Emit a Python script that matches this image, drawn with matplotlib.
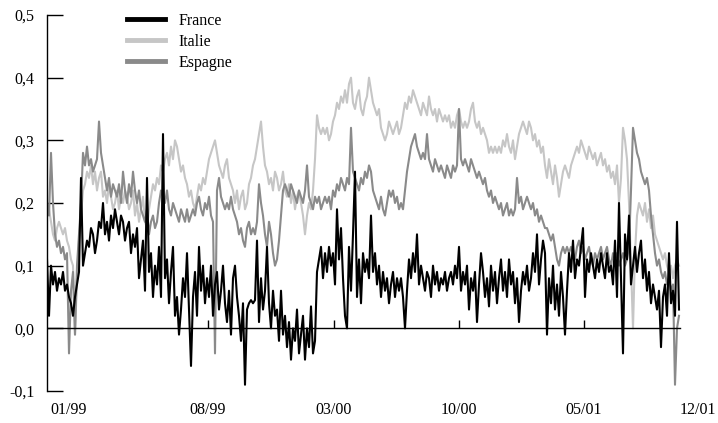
import numpy as np
import matplotlib.pyplot as plt

plt.rcParams['font.family'] = ['Liberation Serif', 'DejaVu Serif']

# values, one point every couple of trading days
france = [0.11, 0.02, 0.10, 0.07, 0.09, 0.06, 0.08, 0.07, 0.09, 0.06,
          0.07, 0.05, 0.04, 0.02, 0.05, 0.07, 0.09, 0.24, 0.10, 0.12,
          0.14, 0.13, 0.16, 0.15, 0.12, 0.14, 0.17, 0.16, 0.20, 0.15,
          0.17, 0.14, 0.18, 0.16, 0.19, 0.17, 0.15, 0.18, 0.17, 0.14,
          0.16, 0.17, 0.12, 0.15, 0.13, 0.16, 0.08, 0.11, 0.14, 0.06,
          0.24, 0.09, 0.12, 0.05, 0.10, 0.07, 0.13, 0.05, 0.31, 0.08,
          0.11, 0.04, 0.09, 0.13, 0.02, 0.05, -0.01, 0.03, 0.08, 0.05,
          0.12, 0.03, -0.06, 0.05, 0.09, 0.02, 0.13, 0.06, 0.10, 0.04,
          0.08, 0.05, 0.10, 0.02, 0.07, 0.09, 0.03, 0.06, 0.10, 0.04,
          0.01, 0.06, -0.01, 0.08, 0.10, 0.05, 0.02, -0.02, 0.04, -0.09,
          0.03, 0.04, 0.045, 0.04, 0.045, 0.14, 0.01, 0.08, 0.03, 0.06,
          0.13, 0.04, 0.00, 0.06, 0.02, 0.03, -0.02, 0.06, -0.01, 0.02,
          -0.03, 0.01, -0.05, 0.00, -0.02, 0.03, -0.04, -0.01, 0.02, -0.05,
          0.00, -0.03, 0.035, -0.04, -0.02, 0.09, 0.11, 0.13, 0.08, 0.12,
          0.09, 0.13, 0.10, 0.12, 0.07, 0.19, 0.11, 0.16, 0.08, 0.02,
          0.00, 0.13, 0.06, 0.15, 0.25, 0.05, 0.11, 0.04, 0.12, 0.09,
          0.11, 0.08, 0.18, 0.09, 0.12, 0.07, 0.10, 0.05, 0.09, 0.06,
          0.08, 0.04, 0.07, 0.09, 0.05, 0.08, 0.06, 0.08, 0.05, 0.00,
          0.06, 0.11, 0.08, 0.12, 0.09, 0.15, 0.07, 0.10, 0.08, 0.06,
          0.09, 0.08, 0.05, 0.10, 0.07, 0.09, 0.06, 0.08, 0.07, 0.09,
          0.06, 0.08, 0.09, 0.07, 0.10, 0.08, 0.13, 0.06, 0.09, 0.07,
          0.10, 0.03, 0.08, 0.06, 0.09, 0.01, 0.07, 0.12, 0.09, 0.05,
          0.08, 0.035, 0.10, 0.06, 0.09, 0.04, 0.08, 0.11, 0.06, 0.09,
          0.05, 0.11, 0.07, 0.09, 0.04, 0.08, 0.01, 0.06, 0.09, 0.07,
          0.10, 0.06, 0.08, 0.12, 0.09, 0.15, 0.07, 0.11, 0.14, 0.12,
          -0.01, 0.08, 0.04, 0.10, 0.03, 0.07, 0.02, 0.09, 0.05, -0.01,
          0.06, 0.12, 0.09, 0.14, 0.08, 0.11, 0.10, 0.13, 0.16, 0.05,
          0.11, 0.09, 0.12, 0.10, 0.08, 0.11, 0.09, 0.12, 0.10, 0.08,
          0.12, 0.09, 0.10, 0.07, 0.14, 0.05, 0.20, 0.08, -0.04, 0.15,
          0.11, 0.18, 0.07, 0.10, 0.13, 0.09, 0.12, 0.14, 0.08, 0.11,
          0.06, 0.09, 0.04, 0.07, 0.05, 0.03, 0.06, -0.03, 0.05, 0.07,
          0.02, 0.12, 0.04, 0.06, 0.02, 0.17, 0.03]

italie = [0.20, 0.19, 0.17, 0.15, 0.14, 0.16, 0.17, 0.16, 0.15, 0.16,
          0.14, 0.13, 0.11, 0.10, -0.01, 0.08, 0.14, 0.18, 0.22, 0.23,
          0.25, 0.24, 0.26, 0.23, 0.25, 0.22, 0.24, 0.25, 0.21, 0.22,
          0.20, 0.23, 0.21, 0.19, 0.20, 0.22, 0.19, 0.21, 0.20, 0.22,
          0.21, 0.19, 0.20, 0.22, 0.18, 0.20, 0.17, 0.19, 0.21, 0.17,
          0.16, 0.19, 0.21, 0.23, 0.22, 0.24, 0.23, 0.26, 0.25, 0.27,
          0.28, 0.26, 0.29, 0.27, 0.30, 0.29, 0.27, 0.25, 0.26, 0.24,
          0.23, 0.21, 0.22, 0.20, 0.19, 0.21, 0.23, 0.22, 0.24, 0.23,
          0.25, 0.27, 0.28, 0.29, 0.30, 0.28, 0.26, 0.25, 0.24, 0.26,
          0.27, 0.24, 0.23, 0.22, 0.20, 0.22, 0.19, 0.21, 0.22, 0.19,
          0.20, 0.23, 0.24, 0.26, 0.27, 0.29, 0.31, 0.33, 0.29, 0.26,
          0.25, 0.23, 0.24, 0.22, 0.25, 0.24, 0.22, 0.23, 0.25, 0.22,
          0.21, 0.23, 0.20, 0.22, 0.19, 0.21, 0.22, 0.20, 0.18, 0.15,
          0.18, 0.20, 0.19, 0.22, 0.27, 0.34, 0.32, 0.31, 0.32, 0.31,
          0.32, 0.30, 0.31, 0.33, 0.34, 0.36, 0.35, 0.37, 0.36, 0.38,
          0.36, 0.39, 0.40, 0.36, 0.35, 0.37, 0.38, 0.35, 0.34, 0.36,
          0.37, 0.40, 0.38, 0.36, 0.35, 0.34, 0.35, 0.32, 0.31, 0.30,
          0.31, 0.33, 0.32, 0.31, 0.32, 0.33, 0.31, 0.32, 0.34, 0.36,
          0.35, 0.37, 0.36, 0.38, 0.37, 0.36, 0.35, 0.34, 0.36, 0.35,
          0.34, 0.37, 0.35, 0.34, 0.35, 0.33, 0.35, 0.34, 0.33, 0.34,
          0.33, 0.34, 0.32, 0.33, 0.32, 0.34, 0.35, 0.33, 0.32, 0.33,
          0.32, 0.33, 0.35, 0.36, 0.33, 0.32, 0.33, 0.31, 0.32, 0.31,
          0.30, 0.28, 0.29, 0.28, 0.29, 0.28, 0.29, 0.28, 0.30, 0.29,
          0.31, 0.29, 0.28, 0.30, 0.27, 0.29, 0.31, 0.32, 0.33, 0.32,
          0.31, 0.33, 0.32, 0.30, 0.31, 0.29, 0.30, 0.28, 0.29, 0.26,
          0.24, 0.27, 0.25, 0.23, 0.26, 0.24, 0.21, 0.23, 0.25, 0.26,
          0.25, 0.24, 0.26, 0.27, 0.28, 0.29, 0.28, 0.30, 0.29, 0.28,
          0.27, 0.29, 0.28, 0.27, 0.28, 0.26, 0.27, 0.28, 0.26, 0.27,
          0.25, 0.26, 0.24, 0.25, 0.23, 0.26, 0.20, 0.24, 0.32, 0.30,
          0.27, 0.20, 0.10, 0.00, 0.12, 0.18, 0.20, 0.19, 0.18, 0.20,
          0.17, 0.19, 0.16, 0.18, 0.15, 0.14, 0.13, 0.12, 0.11, 0.12,
          0.10, 0.09, 0.10, 0.08, 0.10, 0.11, 0.10]

espagne = [0.20, 0.18, 0.28, 0.20, 0.15, 0.13, 0.14, 0.12, 0.13, 0.11,
           0.12, -0.04, 0.06, 0.09, -0.01, 0.10, 0.15, 0.20, 0.28, 0.26,
           0.29, 0.26, 0.27, 0.25, 0.26, 0.27, 0.33, 0.28, 0.26, 0.24,
           0.22, 0.24, 0.21, 0.23, 0.22, 0.21, 0.23, 0.20, 0.25, 0.22,
           0.20, 0.23, 0.21, 0.25, 0.22, 0.20, 0.22, 0.19, 0.18, 0.17,
           0.19, 0.15, 0.17, 0.18, 0.16, 0.17, 0.20, 0.22, 0.21, 0.20,
           0.22, 0.19, 0.18, 0.20, 0.19, 0.18, 0.17, 0.19, 0.18, 0.17,
           0.19, 0.17, 0.18, 0.19, 0.18, 0.20, 0.21, 0.19, 0.18, 0.20,
           0.19, 0.21, 0.18, 0.17, -0.04, 0.22, 0.24, 0.21, 0.20, 0.19,
           0.20, 0.19, 0.21, 0.19, 0.18, 0.17, 0.15, 0.16, 0.14, 0.13,
           0.16, 0.17, 0.15, 0.16, 0.15, 0.17, 0.23, 0.20, 0.18, 0.15,
           0.13, 0.17, 0.15, 0.12, 0.10, 0.11, 0.14, 0.18, 0.22, 0.23,
           0.22, 0.21, 0.23, 0.22, 0.21, 0.20, 0.22, 0.21, 0.20, 0.22,
           0.26, 0.21, 0.20, 0.19, 0.21, 0.20, 0.21, 0.19, 0.20, 0.21,
           0.20, 0.21, 0.19, 0.22, 0.21, 0.23, 0.22, 0.24, 0.23, 0.22,
           0.24, 0.23, 0.32, 0.25, 0.24, 0.23, 0.22, 0.24, 0.23, 0.25,
           0.24, 0.26, 0.25, 0.22, 0.21, 0.20, 0.19, 0.21, 0.19, 0.18,
           0.20, 0.22, 0.21, 0.22, 0.20, 0.21, 0.19, 0.20, 0.19, 0.22,
           0.25, 0.27, 0.29, 0.30, 0.31, 0.29, 0.28, 0.27, 0.28, 0.27,
           0.31, 0.27, 0.26, 0.25, 0.27, 0.26, 0.25, 0.26, 0.25, 0.24,
           0.26, 0.25, 0.24, 0.26, 0.25, 0.26, 0.35, 0.27, 0.26, 0.27,
           0.26, 0.25, 0.27, 0.26, 0.25, 0.24, 0.25, 0.24, 0.23, 0.24,
           0.22, 0.21, 0.22, 0.20, 0.21, 0.20, 0.19, 0.20, 0.18, 0.19,
           0.20, 0.18, 0.19, 0.18, 0.19, 0.24, 0.20, 0.21, 0.19, 0.20,
           0.21, 0.20, 0.19, 0.20, 0.18, 0.19, 0.17, 0.18, 0.17, 0.16,
           0.16, 0.15, 0.14, 0.15, 0.13, 0.11, 0.10, 0.12, 0.13, 0.12,
           0.13, 0.12, 0.13, 0.12, 0.11, 0.13, 0.14, 0.12, 0.13, 0.11,
           0.12, 0.13, 0.11, 0.10, 0.12, 0.11, 0.12, 0.13, 0.11, 0.12,
           0.13, 0.11, 0.10, 0.12, 0.11, 0.12, 0.10, 0.11, 0.12, 0.10,
           0.11, 0.13, 0.22, 0.32, 0.30, 0.28, 0.27, 0.25, 0.24, 0.23,
           0.24, 0.22, 0.18, 0.15, 0.12, 0.10, 0.11, 0.09, 0.08, 0.09,
           0.07, 0.08, 0.06, 0.07, -0.09, 0.00, 0.02]

date_labels = ['01/99', '08/99', '03/00', '10/00', '05/01', '12/01']
date_pos = [11, 80.5, 143.5, 206, 268.5, 325.5]
yticks = [-0.1, 0.0, 0.1, 0.2, 0.3, 0.4, 0.5]

x = np.arange(len(france))

fig = plt.figure(figsize=(7.18, 4.23), dpi=100)
ax = fig.add_axes([47 / 718, 1 - 391 / 423, 1 - 47 / 718, (391 - 15) / 423])

ax.plot(x, italie, color='#c6c6c6', lw=1.5, label='Italie')
ax.plot(x, espagne, color='#8a8a8a', lw=1.5, label='Espagne')
ax.plot(x, france, color='black', lw=1.5, label='France')

# zero line with small date ticks on it
ax.plot([0, len(france) - 0.5], [0, 0], color='black', lw=1)
ax.vlines(date_pos[1:5], 0, 0.014, color='black', lw=1)

ax.set_xlim(0, (718 - 47) / 2)
ax.set_ylim(-0.1, 0.5)
ax.set_yticks(yticks)
ax.set_yticklabels([f'{v:.1f}'.replace('.', ',') for v in yticks], fontsize=11.5)
ax.tick_params(axis='y', direction='in', length=11.5, width=1, pad=9)
ax.set_xticks(date_pos)
ax.set_xticklabels(date_labels, fontsize=11.5)
ax.tick_params(axis='x', length=0, pad=8)

for s in ['top', 'right', 'bottom']:
    ax.spines[s].set_visible(False)
ax.spines['left'].set_linewidth(1)

h, l = ax.get_legend_handles_labels()
order = [2, 0, 1]
leg = ax.legend([h[k] for k in order], [l[k] for k in order],
                loc='upper left', bbox_to_anchor=(127 / 718, 1 - 13 / 423),
                bbox_transform=fig.transFigure, frameon=False, fontsize=11.5,
                handlelength=2.4, handletextpad=0.8, labelspacing=0.3,
                borderpad=0, borderaxespad=0)
for line in leg.get_lines():
    line.set_linewidth(3.5)

plt.savefig('out.png', dpi=100)
